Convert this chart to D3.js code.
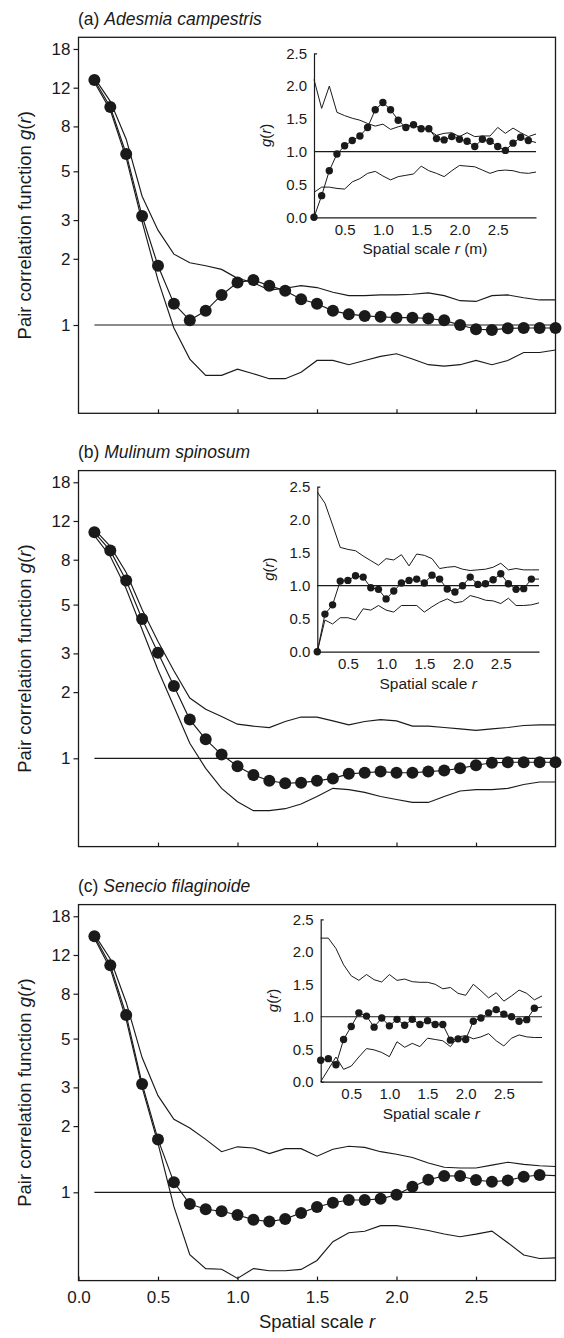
<!DOCTYPE html>
<html>
<head>
<meta charset="utf-8">
<script src="https://cdn.jsdelivr.net/npm/d3@7"></script>
<style>
body { margin: 0; background: #fff; }
svg text { font-family: "Liberation Sans", Arial, Helvetica, sans-serif; fill: #1a1a1a; }
</style>
</head>
<body>
<svg id="chart" width="564" height="1338"></svg>
<script>
// spatial scale r (same grid for every curve)
var rVals = [0.1,0.2,0.3,0.4,0.5,0.6,0.7,0.8,0.9,1.0,1.1,1.2,1.3,1.4,1.5,
             1.6,1.7,1.8,1.9,2.0,2.1,2.2,2.3,2.4,2.5,2.6,2.7,2.8,2.9,3.0];

var mainYTicks = [1, 2, 3, 5, 8, 12, 18];
var mainXTicks = [0.5, 1.0, 1.5, 2.0, 2.5];
var mainXLabelTicks = [0.0, 0.5, 1.0, 1.5, 2.0, 2.5];
var insetYTicks = [0.0, 0.5, 1.0, 1.5, 2.0, 2.5];
var insetXTicks = [0.5, 1.0, 1.5, 2.0, 2.5];

// (a) Adesmia campestris - main (log scale)
var obsA = [13.0,9.8,6.0,3.13,1.86,1.25,1.05,1.16,1.37,1.56,1.60,1.51,1.43,1.31,1.25,
            1.16,1.12,1.10,1.09,1.08,1.08,1.07,1.05,1.00,0.956,0.95,0.966,0.969,0.969,0.969];
var hiA  = [13.3,10.4,7.0,3.85,2.7,2.1,1.92,1.86,1.79,1.63,1.56,1.44,1.47,1.51,1.48,
            1.41,1.36,1.36,1.37,1.37,1.38,1.40,1.36,1.29,1.28,1.36,1.37,1.33,1.30,1.30];
var loA  = [12.7,9.5,5.75,2.95,1.6,0.97,0.70,0.59,0.59,0.63,0.60,0.57,0.57,0.61,0.69,
            0.69,0.66,0.69,0.72,0.74,0.70,0.66,0.65,0.66,0.69,0.66,0.69,0.75,0.75,0.77];
// (a) inset (linear scale)
var insObsA = [0.0,0.33,0.71,0.965,1.09,1.17,1.24,1.37,1.64,1.75,1.64,1.48,1.37,1.41,1.35,
               1.35,1.20,1.18,1.23,1.19,1.16,1.08,1.19,1.16,1.08,1.02,1.13,1.22,1.17,1.14];
var insHiA  = [2.10,1.66,2.0,1.60,1.55,1.51,1.48,1.43,1.39,1.42,1.34,1.38,1.41,1.39,1.37,
               1.33,1.25,1.28,1.29,1.23,1.29,1.23,1.24,1.24,1.37,1.28,1.36,1.29,1.23,1.27];
var insLoA  = [0.38,0.46,0.46,0.44,0.43,0.54,0.59,0.67,0.70,0.63,0.57,0.62,0.64,0.66,0.78,
               0.71,0.67,0.62,0.71,0.79,0.78,0.77,0.72,0.67,0.71,0.72,0.71,0.68,0.67,0.69];

// (b) Mulinum spinosum
var obsB = [10.66,8.8,6.43,4.3,3.02,2.13,1.50,1.22,1.04,0.92,0.84,0.79,0.77,0.775,0.79,
            0.81,0.85,0.86,0.87,0.86,0.86,0.87,0.88,0.90,0.93,0.955,0.959,0.96,0.96,0.96];
var hiB  = [11.0,9.2,7.0,4.75,3.4,2.5,1.88,1.67,1.55,1.43,1.40,1.38,1.47,1.54,1.54,
            1.48,1.42,1.47,1.50,1.48,1.40,1.40,1.38,1.36,1.34,1.36,1.38,1.41,1.42,1.42];
var loB  = [10.3,8.3,5.9,3.85,2.52,1.72,1.17,0.90,0.73,0.635,0.578,0.578,0.59,0.62,0.67,
            0.73,0.72,0.70,0.67,0.65,0.63,0.63,0.67,0.71,0.72,0.72,0.73,0.76,0.78,0.78];
var insObsB = [0.0,0.57,0.71,1.07,1.08,1.15,1.13,0.97,0.945,0.80,0.92,1.04,1.08,1.10,1.04,
               1.16,1.10,0.95,0.905,1.0,1.13,1.02,1.03,1.09,1.18,1.03,0.945,0.955,1.10,1.10];
var insHiB  = [2.42,2.25,1.92,1.58,1.55,1.53,1.45,1.38,1.31,1.41,1.39,1.47,1.30,1.48,1.46,
               1.41,1.26,1.28,1.29,1.25,1.23,1.24,1.25,1.28,1.34,1.24,1.26,1.24,1.24,1.24];
var insLoB  = [0.0,0.48,0.42,0.515,0.515,0.48,0.65,0.63,0.70,0.63,0.60,0.70,0.70,0.70,0.60,
               0.68,0.75,0.80,0.74,0.76,0.85,0.82,0.78,0.77,0.73,0.81,0.70,0.70,0.71,0.74];

// (c) Senecio filaginoide
var obsC = [14.6,10.77,6.4,3.11,1.74,1.11,0.885,0.837,0.82,0.789,0.751,0.736,0.756,0.806,0.857,
            0.896,0.923,0.923,0.934,0.974,1.06,1.14,1.187,1.186,1.137,1.117,1.133,1.177,1.199,1.19];
var hiC  = [14.9,11.5,7.3,4.1,2.75,2.15,1.96,1.74,1.53,1.61,1.59,1.50,1.58,1.58,1.46,
            1.57,1.62,1.60,1.53,1.49,1.44,1.36,1.30,1.29,1.29,1.33,1.37,1.34,1.32,1.31];
var loC  = [14.3,10.4,6.1,3.0,1.67,0.86,0.52,0.45,0.447,0.406,0.45,0.44,0.44,0.446,0.49,
            0.596,0.655,0.665,0.705,0.705,0.69,0.67,0.646,0.628,0.645,0.666,0.59,0.519,0.50,0.503];
var insObsC = [0.33,0.355,0.26,0.65,0.85,1.06,1.01,0.84,0.98,0.86,0.96,0.87,0.96,0.88,0.94,
               0.88,0.88,0.64,0.66,0.65,0.93,0.98,1.06,1.11,1.04,1.00,0.93,0.955,1.13,1.15];
var insHiC  = [2.21,2.21,2.05,1.80,1.63,1.56,1.65,1.57,1.535,1.65,1.56,1.58,1.54,1.53,1.53,
               1.50,1.43,1.45,1.36,1.33,1.50,1.40,1.29,1.37,1.24,1.32,1.41,1.36,1.26,1.32];
var insLoC  = [0.0,0.19,0.38,0.19,0.24,0.38,0.51,0.49,0.45,0.385,0.615,0.53,0.59,0.54,0.67,
               0.65,0.63,0.54,0.69,0.71,0.66,0.69,0.74,0.63,0.55,0.67,0.72,0.69,0.68,0.68];

var panels = [
  {tag: "(a) ", name: "Adesmia campestris", dy: 0, obs: obsA, hi: hiA, lo: loA, nDots: 30,
   insObs: insObsA, insHi: insHiA, insLo: insLoA, ix: [314, 536], iy: [217.3, 53.3], unit: true, xLabels: false},
  {tag: "(b) ", name: "Mulinum spinosum", dy: 433.3, obs: obsB, hi: hiB, lo: loB, nDots: 30,
   insObs: insObsB, insHi: insHiB, insLo: insLoB, ix: [317.3, 539], iy: [218.4, 53.4], unit: false, xLabels: false},
  {tag: "(c) ", name: "Senecio filaginoide", dy: 867.3, obs: obsC, hi: hiC, lo: loC, nDots: 29,
   insObs: insObsC, insHi: insHiC, insLo: insLoC, ix: [320.7, 542], iy: [214.4, 52], unit: false, xLabels: true}
];

var svg = d3.select("#chart");
var ink = "#1a1a1a";

var x = d3.scaleLinear().domain([0, 3]).range([78.5, 555.5]);
var y = d3.scaleLog().domain([0.3967, 20.34]).range([413.3, 37.3]);

function pts(vals) {
  return vals.map(function(v, i) { return {r: rVals[i], v: v}; });
}

panels.forEach(function(p) {
  var g = svg.append("g").attr("transform", "translate(0," + p.dy + ")");

  // panel title
  var t = g.append("text").attr("x", 78).attr("y", 25).style("font-size", "17.5px");
  t.append("tspan").text(p.tag);
  t.append("tspan").style("font-style", "italic").text(p.name);

  // frame
  g.append("rect")
    .attr("x", x(0)).attr("y", y.range()[1])
    .attr("width", x(3) - x(0)).attr("height", y.range()[0] - y.range()[1])
    .attr("fill", "none").attr("stroke", ink).attr("stroke-width", 1.3);

  // y axis
  var ya = g.append("g").attr("transform", "translate(" + x(0) + ",0)")
    .call(d3.axisLeft(y).tickValues(mainYTicks).tickFormat(d3.format("d"))
      .tickSize(5).tickPadding(3));
  ya.select(".domain").remove();
  ya.selectAll("line").attr("stroke", ink).attr("stroke-width", 1.2);
  ya.selectAll("text").style("font-size", "17px").attr("fill", ink);

  // x axis (ticks inside)
  var xa = g.append("g").attr("transform", "translate(0," + y.range()[0] + ")")
    .call(d3.axisBottom(x).tickValues(p.xLabels ? mainXLabelTicks : mainXTicks)
      .tickFormat(p.xLabels ? d3.format(".1f") : function() { return ""; })
      .tickSizeInner(-4).tickSizeOuter(0).tickPadding(10));
  xa.select(".domain").remove();
  xa.selectAll("line").attr("stroke", ink).attr("stroke-width", 1.2);
  xa.selectAll("text").style("font-size", "17px").attr("fill", ink);

  // y title
  var yt = g.append("text")
    .attr("transform", "translate(31," + (y.range()[0] + y.range()[1]) / 2 + ") rotate(-90)")
    .attr("text-anchor", "middle").style("font-size", "18.5px");
  yt.append("tspan").text("Pair correlation function ");
  yt.append("tspan").style("font-style", "italic").text("g");
  yt.append("tspan").text("(");
  yt.append("tspan").style("font-style", "italic").text("r");
  yt.append("tspan").text(")");

  // g(r) = 1 reference
  g.append("line")
    .attr("x1", x(rVals[0])).attr("x2", x(rVals[rVals.length - 1]))
    .attr("y1", y(1)).attr("y2", y(1))
    .attr("stroke", ink).attr("stroke-width", 1.2);

  var line = d3.line().x(function(d) { return x(d.r); }).y(function(d) { return y(d.v); });

  [p.hi, p.lo, p.obs].forEach(function(s) {
    g.append("path").datum(pts(s)).attr("d", line)
      .attr("fill", "none").attr("stroke", ink).attr("stroke-width", 1.15);
  });

  g.selectAll("circle.main").data(pts(p.obs).slice(0, p.nDots)).enter()
    .append("circle").attr("class", "main")
    .attr("cx", function(d) { return x(d.r); })
    .attr("cy", function(d) { return y(d.v); })
    .attr("r", 6).attr("fill", ink);

  // ---- inset ----
  var ix = d3.scaleLinear().domain([0.1, 3.0]).range(p.ix);
  var iy = d3.scaleLinear().domain([0, 2.5]).range(p.iy);

  var iya = g.append("g").attr("transform", "translate(" + p.ix[0] + ",0)")
    .call(d3.axisLeft(iy).tickValues(insetYTicks).tickFormat(d3.format(".1f"))
      .tickSizeInner(0).tickSizeOuter(-3).tickPadding(7));
  iya.select(".domain").attr("stroke", ink).attr("stroke-width", 1.2);
  iya.selectAll("text").style("font-size", "15px").attr("fill", ink);

  var ixa = g.append("g").attr("transform", "translate(0," + p.iy[0] + ")")
    .call(d3.axisBottom(ix).tickValues(insetXTicks).tickFormat(d3.format(".1f"))
      .tickSizeInner(0).tickSizeOuter(0).tickPadding(7));
  ixa.select(".domain").attr("stroke", ink).attr("stroke-width", 1.2);
  ixa.selectAll("text").style("font-size", "15px").attr("fill", ink);

  var it = g.append("text")
    .attr("x", (p.ix[0] + p.ix[1]) / 2).attr("y", p.iy[0] + 37)
    .attr("text-anchor", "middle").style("font-size", "15.5px");
  it.append("tspan").text("Spatial scale ");
  it.append("tspan").style("font-style", "italic").text("r");
  if (p.unit) it.append("tspan").text(" (m)");

  var ig = g.append("text")
    .attr("transform", "translate(" + (p.ix[0] - 43) + "," + (p.iy[0] + p.iy[1]) / 2 + ") rotate(-90)")
    .attr("text-anchor", "middle").style("font-size", "15px");
  ig.append("tspan").style("font-style", "italic").text("g");
  ig.append("tspan").text("(");
  ig.append("tspan").style("font-style", "italic").text("r");
  ig.append("tspan").text(")");

  g.append("line")
    .attr("x1", ix(0.1)).attr("x2", ix(3.0))
    .attr("y1", iy(1)).attr("y2", iy(1))
    .attr("stroke", ink).attr("stroke-width", 1.2);

  var iline = d3.line().x(function(d) { return ix(d.r); }).y(function(d) { return iy(d.v); });
  [p.insHi, p.insLo, p.insObs].forEach(function(s) {
    g.append("path").datum(pts(s)).attr("d", iline)
      .attr("fill", "none").attr("stroke", ink).attr("stroke-width", 1.0);
  });

  g.selectAll("circle.ins").data(pts(p.insObs).slice(0, 29)).enter()
    .append("circle").attr("class", "ins")
    .attr("cx", function(d) { return ix(d.r); })
    .attr("cy", function(d) { return iy(d.v); })
    .attr("r", 3.7).attr("fill", ink);
});

// shared x title
var xt = svg.append("text").attr("x", 317).attr("y", 1328)
  .attr("text-anchor", "middle").style("font-size", "18.5px");
xt.append("tspan").text("Spatial scale ");
xt.append("tspan").style("font-style", "italic").text("r");
</script>
</body>
</html>
